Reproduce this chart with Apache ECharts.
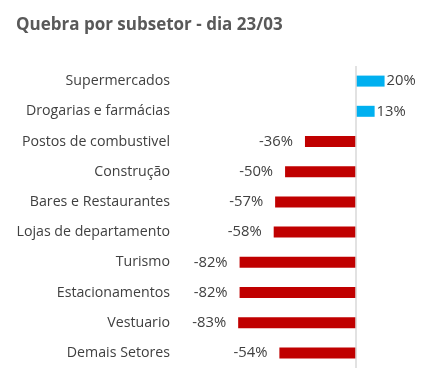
<!DOCTYPE html>
<html><head><meta charset="utf-8">
<script src="https://cdn.jsdelivr.net/npm/echarts@6/dist/echarts.min.js"></script>
<style>html,body{margin:0;padding:0;background:#fff}#c{width:422px;height:391px}</style>
</head><body><div id="c"></div>
<script>
var categories = ['Supermercados','Drogarias e farmácias','Postos de combustivel','Construção','Bares e Restaurantes','Lojas de departamento','Turismo','Estacionamentos','Vestuario','Demais Setores'];
var values = [20, 13, -36, -50, -57, -58, -82, -82, -83, -54];
var title = 'Quebra por subsetor - dia 23/03';

var chart = echarts.init(document.getElementById('c'));
var data = values.map(function(v){
  return {
    value: v,
    itemStyle: {color: v >= 0 ? '#00B0F0' : '#C00000'},
    label: {position: v >= 0 ? 'right' : 'left', distance: v >= 0 ? 2 : 12}
  };
});
chart.setOption({
  animation: false,
  title: {text: title, left: 11, top: 12, textStyle: {fontFamily: 'Open Sans', fontWeight: 'bold', fontSize: 17, color: '#595959'}},
  grid: {left: 214, right: 9, top: 66, bottom: 23, containLabel: false},
  xAxis: {type: 'value', min: -100, max: 40, show: false},
  yAxis: {type: 'category', data: categories, inverse: true,
    axisLine: {show: false}, axisTick: {show: false},
    axisLabel: {margin: 44, fontFamily: 'Open Sans', fontSize: 14.2, color: '#404040'}},
  series: [{
    type: 'bar', data: data, barWidth: 11,
    label: {show: true, formatter: function(p){return p.value + '%';}, fontFamily: 'Open Sans', fontSize: 14.8, color: '#404040'},
    markLine: {silent: true, symbol: 'none', label: {show: false},
      lineStyle: {color: '#D9D9D9', width: 1.5, type: 'solid'},
      data: [{xAxis: 0}]}
  }]
});
</script></body></html>
